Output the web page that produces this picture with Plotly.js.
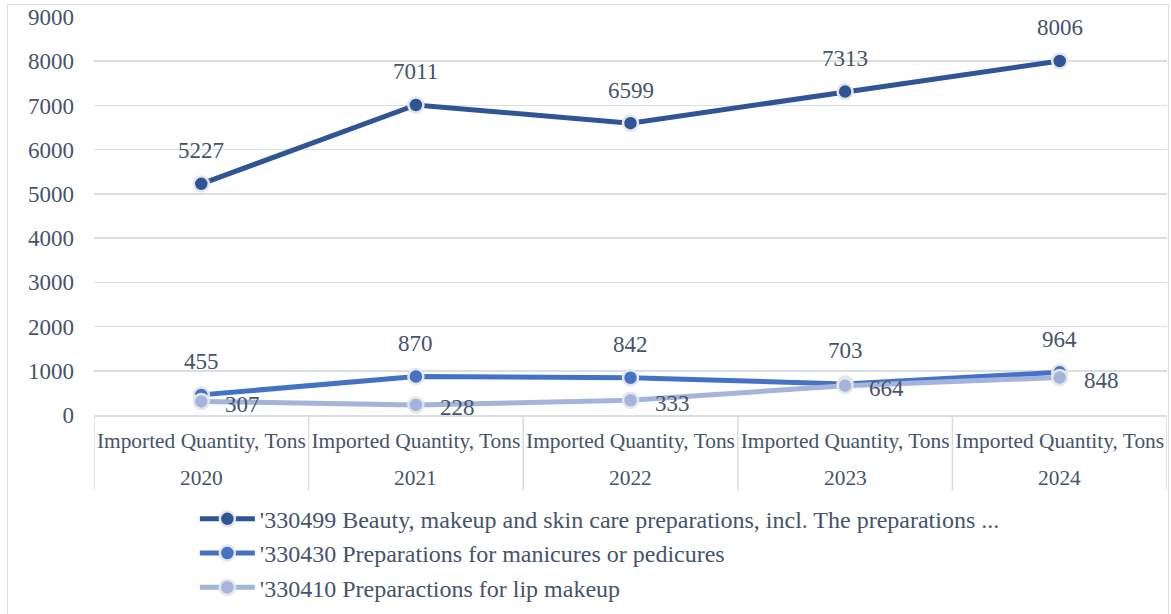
<!DOCTYPE html>
<html>
<head>
<meta charset="utf-8">
<script src="https://cdn.plot.ly/plotly-3.0.1.min.js"></script>
<style>
  html, body { margin: 0; padding: 0; background: #fff; }
  #wrap { position: relative; width: 1171px; height: 614px; }
  #chart { width: 1171px; height: 614px; }
  #frame { position: absolute; left: 7px; top: 4px; width: 1162px; height: 612px;
           border: 1.5px solid #D9DDE4; box-sizing: border-box; pointer-events: none; }
</style>
</head>
<body>
<div id="wrap">
  <div id="chart"></div>
  <div id="frame"></div>
</div>
<script>
const years = ["2020", "2021", "2022", "2023", "2024"];
const measure = "Imported Quantity, Tons";
const seriesNames = [
  "'330499 Beauty, makeup and skin care preparations, incl. The preparations ...",
  "'330430 Preparations for manicures or pedicures",
  "'330410 Preparactions for lip makeup"
];
const beauty = [5227, 7011, 6599, 7313, 8006];
const manicure = [455, 870, 842, 703, 964];
const lip = [307, 228, 333, 664, 848];

const colors = ["#2F5597", "#4472C4", "#A5B4DC"];
const textColor = "#44546A";
const gridColor = "#D9DDE4";
const fontFam = "'Liberation Serif', 'Times New Roman', serif";
const FS = 23;      // ticks and data labels
const FS_CAT = 21.4; // category labels
const FS_LEG = 24;  // legend
const idx = years.map((_, i) => i);

const allSeries = [beauty, manicure, lip];
const traces = allSeries.map((vals, i) => ({
  type: "scatter",
  mode: "lines+markers",
  name: seriesNames[i],
  legendgroup: "g" + i,
  x: idx,
  y: vals,
  line: { color: colors[i], width: 5 },
  marker: { color: colors[i], size: 15, line: { color: "#E4E6EA", width: 2.5 } },
  hoverinfo: "skip"
}));

const annotations = [];
[beauty, manicure].forEach(vals => {
  vals.forEach((v, j) => annotations.push({
    x: j, y: v, xref: "x", yref: "y", text: String(v), showarrow: false,
    yshift: 33, font: { family: fontFam, size: FS, color: textColor }
  }));
});
lip.forEach((v, j) => annotations.push({
  x: j, y: v, xref: "x", yref: "y", text: String(v), showarrow: false,
  xanchor: "left", xshift: 22, yshift: -3, font: { family: fontFam, size: FS, color: textColor }
}));
// outer category level: years
years.forEach((yr, j) => annotations.push({
  x: j, y: -0.158, xref: "x", yref: "paper", yanchor: "middle", text: yr, showarrow: false,
  font: { family: fontFam, size: FS_CAT, color: textColor }
}));

// category dividers at group boundaries
const shapes = [];
for (let i = 0; i <= years.length; i++) {
  shapes.push({
    type: "line", xref: "x", yref: "paper", x0: i - 0.5, x1: i - 0.5, y0: 0, y1: -0.19,
    line: { color: gridColor, width: 1.5 }, layer: "below"
  });
}

const layout = {
  width: 1171, height: 614,
  margin: { l: 94, r: 4, t: 17, b: 199 },
  paper_bgcolor: "#ffffff", plot_bgcolor: "#ffffff",
  font: { family: fontFam, size: FS, color: textColor },
  showlegend: true,
  legend: {
    orientation: "v", x: 0.094, xanchor: "left",
    yref: "container", y: 0.191, yanchor: "top",
    font: { family: fontFam, size: FS_LEG, color: textColor },
    itemwidth: 55, tracegroupgap: 0, bgcolor: "rgba(0,0,0,0)"
  },
  xaxis: {
    range: [-0.5, years.length - 0.5],
    tickmode: "array", tickvals: idx, ticktext: years.map(() => measure),
    tickangle: 0,
    showgrid: false, zeroline: false,
    showline: true, linecolor: gridColor, linewidth: 1.5,
    ticks: "", ticklabelstandoff: 6,
    tickfont: { family: fontFam, size: FS_CAT, color: textColor }
  },
  yaxis: {
    range: [0, 9000], dtick: 1000, tick0: 0,
    showgrid: true, gridcolor: gridColor, gridwidth: 1.5,
    zeroline: false, showline: false, ticks: "",
    ticklabelstandoff: 19,
    tickfont: { family: fontFam, size: FS, color: textColor }
  },
  shapes: shapes,
  annotations: annotations
};

Plotly.newPlot("chart", traces, layout, { displayModeBar: false, staticPlot: true });
</script>
</body>
</html>
